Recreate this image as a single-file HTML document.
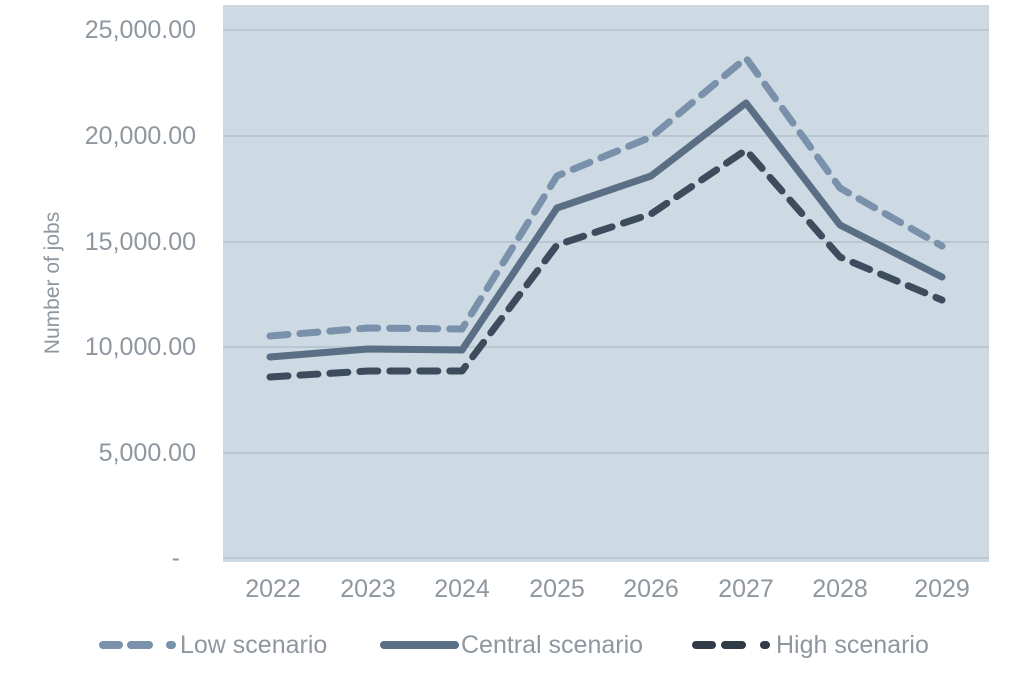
<!DOCTYPE html>
<html><head><meta charset="utf-8"><style>
body{margin:0;background:#fff;}
svg text{font-family:"Liberation Sans",sans-serif;fill:#8e979f;}
</style></head><body>
<svg width="1023" height="685" xmlns="http://www.w3.org/2000/svg">
<rect x="223" y="5" width="766" height="557" fill="#cdd9e3"/>
<g stroke="#b9c7d3" stroke-width="2">
<line x1="223" x2="989" y1="30" y2="30"/>
<line x1="223" x2="989" y1="136" y2="136"/>
<line x1="223" x2="989" y1="242" y2="242"/>
<line x1="223" x2="989" y1="347" y2="347"/>
<line x1="223" x2="989" y1="453" y2="453"/>
<line x1="223" x2="989" y1="558" y2="558"/>
</g>
<g font-size="25" text-anchor="end">
<text x="196" y="38">25,000.00</text>
<text x="196" y="144">20,000.00</text>
<text x="196" y="250">15,000.00</text>
<text x="196" y="355">10,000.00</text>
<text x="196" y="461">5,000.00</text>
<text x="180" y="566">-</text>
</g>
<text transform="translate(59,283) rotate(-90)" font-size="21" text-anchor="middle">Number of jobs</text>
<g font-size="25" text-anchor="middle">
<text x="273" y="597">2022</text><text x="368" y="597">2023</text><text x="462" y="597">2024</text><text x="557" y="597">2025</text>
<text x="651" y="597">2026</text><text x="746" y="597">2027</text><text x="840" y="597">2028</text><text x="942" y="597">2029</text>
</g>
<g fill="none" stroke-linecap="round" stroke-linejoin="round" stroke-width="7">
<polyline stroke="#7991ab" stroke-dasharray="18,12" points="270,336 368,328 462,329 557,176 651,137 746,58 840,188 942,246"/>
<polyline stroke="#5a6f85" points="270,357 368,349 462,350 557,208 651,176 746,103 840,225 942,277"/>
<polyline stroke="#3d4c5d" stroke-dasharray="18,12" points="270,377 368,371 462,371 557,245 651,214 746,150 840,257 942,300"/>
</g>
<g stroke-linecap="round" stroke-width="8">
<line x1="103" x2="119" y1="645" y2="645" stroke="#7991ab"/><line x1="131" x2="149" y1="645" y2="645" stroke="#7991ab"/><line x1="170" x2="172" y1="645" y2="645" stroke="#7991ab"/>
<line x1="384" x2="455" y1="645" y2="645" stroke="#5a6f85"/>
<line x1="696" x2="712" y1="645" y2="645" stroke="#2f3b47"/><line x1="725" x2="742" y1="645" y2="645" stroke="#2f3b47"/><line x1="764" x2="766" y1="645" y2="645" stroke="#2f3b47"/>
</g>
<g font-size="25">
<text x="180" y="653">Low scenario</text>
<text x="461" y="653">Central scenario</text>
<text x="776" y="653">High scenario</text>
</g>
</svg>
</body></html>
